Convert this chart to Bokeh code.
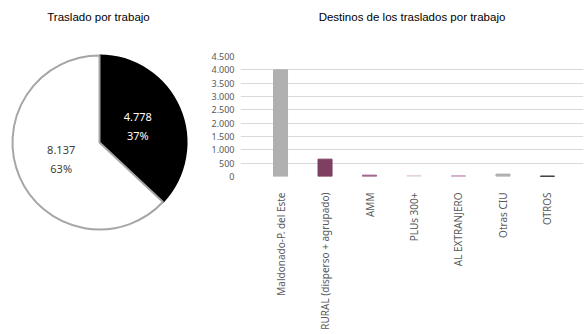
import math
from bokeh.plotting import figure
from bokeh.layouts import row, column
from bokeh.models import Range1d, FixedTicker, Label, ColumnDataSource, Title
from bokeh.core.properties import value
from bokeh.embed import file_html
from bokeh.resources import INLINE

# ---- data ----
pie_labels = ["4.778", "8.137"]
pie_values = [4778, 8137]
pie_colors = ["#000000", "#ffffff"]
pie_text_colors = ["#ffffff", "#404040"]

categories = ["Maldonado-P. del Este", "RURAL (disperso + agrupado)", "AMM",
              "PLUs 300+", "AL EXTRANJERO", "Otras CIU", "OTROS"]
bar_values = [4000, 650, 50, 40, 25, 90, 15]
bar_colors = ["#b0b0b0", "#7f3f62", "#9b5a83", "#e6cfe0", "#c493b6", "#b0b0b0", "#000000"]
y_ticks = [0, 500, 1000, 1500, 2000, 2500, 3000, 3500, 4000, 4500]

# ---- pie ----
R = 87.0
pw, ph = 200, 334
cx, cy = 99.0, 142.0  # centre in canvas px from top-left
pie = figure(width=pw, height=ph, output_backend="svg", toolbar_location=None,
             x_range=Range1d(-cx / R, (pw - cx) / R),
             y_range=Range1d(-(ph - cy) / R, cy / R),
             min_border=0, outline_line_color=None)
pie.axis.visible = False
pie.grid.visible = False

total = sum(pie_values)
starts, ends, tx, ty, texts = [], [], [], [], []
cum = 0.0
for v, lab in zip(pie_values, pie_labels):
    f0 = cum / total
    cum += v
    f1 = cum / total
    a_start = math.pi / 2 - f1 * 2 * math.pi
    a_end = math.pi / 2 - f0 * 2 * math.pi
    starts.append(a_start)
    ends.append(a_end)
    mid = (a_start + a_end) / 2
    tx.append(0.48 * math.cos(mid))
    ty.append(0.48 * math.sin(mid))
    texts.append(f"{lab}\n{round(100 * v / total)}%")

src = ColumnDataSource(dict(start=starts, end=ends, color=pie_colors,
                            line=["#000000", "#a6a6a6"], x=tx, y=ty, text=texts,
                            tc=pie_text_colors))
pie.wedge(x=0, y=0, radius=1, start_angle="start", end_angle="end",
          direction="anticlock", fill_color="color", line_color="line",
          line_width=2, source=src)
pie.text(x="x", y="y", text="text", text_color="tc", source=src,
         text_align="center", text_baseline="middle",
         text_font=value("Noto Sans"), text_font_size="11px", text_line_height=1.3)
pie.add_layout(Label(x=98, y=318, x_units="screen", y_units="screen",
                     text="Traslado por trabajo", text_align="center",
                     text_baseline="middle", text_font="Liberation Sans",
                     text_font_size="11.5px", text_color="#000000"))

# ---- bars ----
bw, bh = 385, 334
bars = figure(width=bw, height=bh, output_backend="svg", toolbar_location=None,
              x_range=Range1d(-0.9, 6.81), y_range=Range1d(0, 4500),
              min_border_left=40, min_border_right=2, min_border_top=56,
              min_border_bottom=158, outline_line_color=None, title=None)
# spacer title (blank) next to the plot area, then the real title above it
bars.add_layout(Title(text=" ", text_font_size="15px", text_color="#ffffff"), "above")
bars.add_layout(Title(text="Destinos de los traslados por trabajo", align="center",
                      offset=3, text_font="Liberation Sans", text_font_size="11.5px",
                      text_font_style="normal", text_color="#000000"), "above")

xs = list(range(len(categories)))
bars.vbar(x=xs, top=bar_values, width=0.315, color=bar_colors)

bars.xaxis.ticker = FixedTicker(ticks=xs)
bars.xaxis.major_label_overrides = {i: c for i, c in zip(xs, categories)}
bars.xaxis.major_label_orientation = math.pi / 2
bars.xaxis.major_label_standoff = 16
bars.xaxis.axis_line_color = None
bars.xaxis.major_tick_line_color = None
bars.xaxis.minor_tick_line_color = None
bars.xaxis.major_tick_out = 0
bars.xaxis.major_tick_in = 0
bars.xaxis.major_label_text_font = "Noto Sans"
bars.xaxis.major_label_text_font_size = "10px"
bars.xaxis.major_label_text_color = "#595959"
bars.xgrid.visible = False

bars.yaxis.ticker = FixedTicker(ticks=y_ticks)
bars.yaxis.major_label_overrides = {t: f"{t:,}".replace(",", ".") for t in y_ticks}
bars.yaxis.axis_line_color = None
bars.yaxis.major_tick_line_color = None
bars.yaxis.minor_tick_line_color = None
bars.yaxis.major_tick_out = 0
bars.yaxis.major_tick_in = 0
bars.yaxis.major_label_standoff = 6
bars.yaxis.major_label_text_font = "Noto Sans"
bars.yaxis.major_label_text_font_size = "9px"
bars.yaxis.major_label_text_color = "#595959"
bars.ygrid.grid_line_color = "#d9d9d9"
bars.ygrid.grid_line_width = 1

layout = row(column(pie), column(bars))
open("out.html", "w").write(file_html(layout, INLINE))
